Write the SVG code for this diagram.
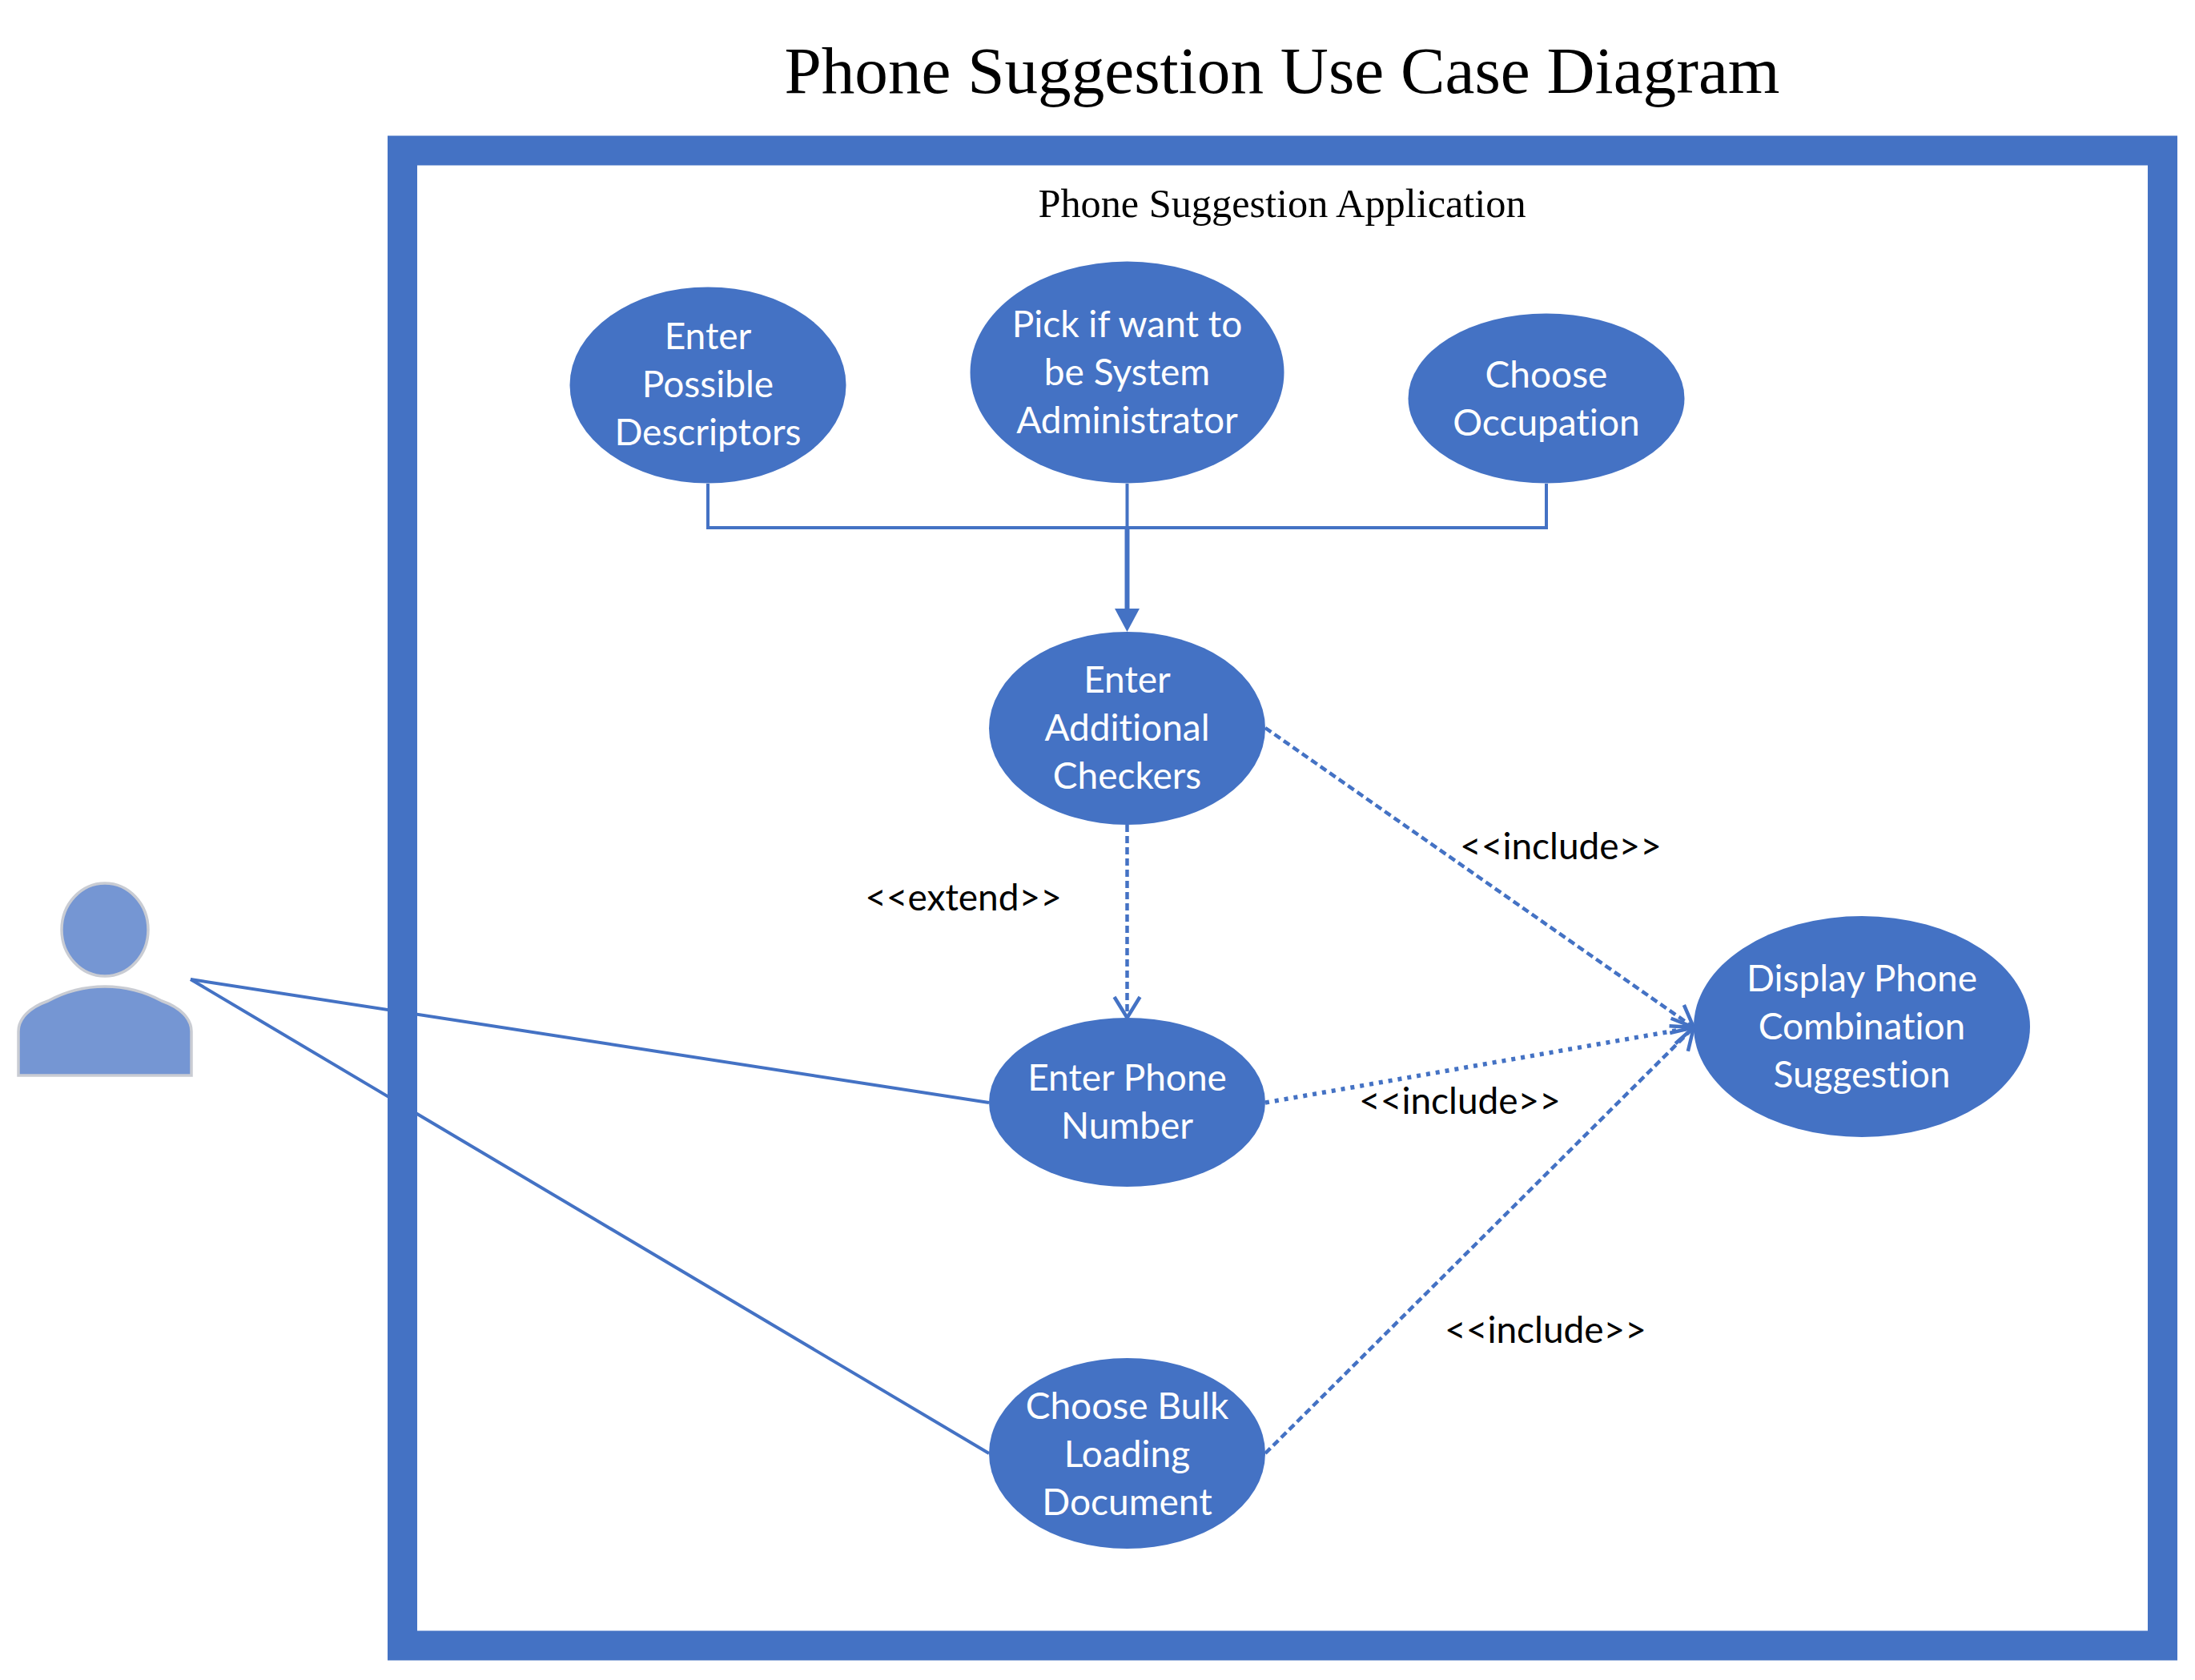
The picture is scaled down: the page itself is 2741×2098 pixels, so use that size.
<svg xmlns="http://www.w3.org/2000/svg" width="2741" height="2098" viewBox="0 0 2741 2098">
<style>
.uc{fill:#4472c4}
.t{font-family:"Lato","Liberation Sans",sans-serif;font-size:46px;fill:#fff;text-anchor:middle;font-variant-ligatures:none}
.l{font-family:"Lato","Liberation Sans",sans-serif;font-size:46px;fill:#000;text-anchor:middle;font-variant-ligatures:none}
.s{font-family:"Liberation Serif","Times New Roman",serif;fill:#000;text-anchor:middle}
.c{fill:none;stroke:#4472c4;stroke-width:4}
.d{stroke-width:4.5;stroke-dasharray:9 5}
.o{stroke-width:5.5;stroke-dasharray:5 7}
</style>
<defs>
<marker id="open" markerUnits="userSpaceOnUse" markerWidth="40" markerHeight="44" refX="32" refY="22" orient="auto">
<path d="M6 6L32 22L6 38" fill="none" stroke="#4472c4" stroke-width="4.5"/>
</marker>
</defs>
<rect width="2741" height="2098" fill="#fff"/>
<text id="title" class="s" x="1601" y="116" font-size="83.2">Phone Suggestion Use Case Diagram</text>
<g id="connectors">
<path class="c" d="M884 604V659H1931V604"/>
<path class="c" d="M1407.5 604V659"/>
<path class="c" style="stroke-width:6" d="M1407.5 659V765"/>
<path d="M1392 760H1423L1407.5 789Z" fill="#4472c4"/>
<path class="c" d="M238 1223L1235 1377"/>
<path class="c" d="M238 1223L1235 1815"/>
<path class="c d" d="M1407.5 1030V1271" marker-end="url(#open)"/>
<path class="c d" d="M1580 909L2115 1283" marker-end="url(#open)"/>
<path class="c o" d="M1580 1377L2115 1283" marker-end="url(#open)"/>
<path class="c d" d="M1580 1815L2115 1283" marker-end="url(#open)"/>
</g>
<g id="system">
<rect x="502.5" y="188" width="2198" height="1867" fill="none" stroke="#4472c4" stroke-width="37"/>
<text class="s" x="1601" y="271" font-size="50.3">Phone Suggestion Application</text>
</g>
<g id="actor">
<ellipse cx="131" cy="1161" rx="54" ry="58" fill="#7596d3" stroke="#c9ccd3" stroke-width="3.5"/>
<path d="M23 1343V1320V1288C23 1272 37 1258 60 1250C82 1238 105 1232 131 1232C157 1232 180 1238 202 1250C225 1258 239 1272 239 1288V1343Z" fill="#7596d3" stroke="#c9ccd3" stroke-width="3.5"/>
</g>
<g id="descriptors"><ellipse class="uc" cx="884" cy="481" rx="172.5" ry="122.5"/><text class="t"><tspan x="884" y="436">Enter</tspan><tspan x="884" y="496">Possible</tspan><tspan x="884" y="556">Descriptors</tspan></text></g>
<g id="sysadmin"><ellipse class="uc" cx="1407.5" cy="465" rx="196" ry="138.5"/><text class="t"><tspan x="1407.5" y="421">Pick if want to</tspan><tspan x="1407.5" y="481">be System</tspan><tspan x="1407.5" y="541">Administrator</tspan></text></g>
<g id="occupation"><ellipse class="uc" cx="1931" cy="497.5" rx="172.5" ry="106"/><text class="t"><tspan x="1931" y="484">Choose</tspan><tspan x="1931" y="544">Occupation</tspan></text></g>
<g id="checkers"><ellipse class="uc" cx="1407.5" cy="909.5" rx="172.5" ry="120.5"/><text class="t"><tspan x="1407.5" y="865">Enter</tspan><tspan x="1407.5" y="925">Additional</tspan><tspan x="1407.5" y="985">Checkers</tspan></text></g>
<g id="phone"><ellipse class="uc" cx="1407.5" cy="1376.5" rx="172.5" ry="105.5"/><text class="t"><tspan x="1407.5" y="1362">Enter Phone</tspan><tspan x="1407.5" y="1422">Number</tspan></text></g>
<g id="bulk"><ellipse class="uc" cx="1407.5" cy="1815" rx="172.5" ry="119"/><text class="t"><tspan x="1407.5" y="1772">Choose Bulk</tspan><tspan x="1407.5" y="1832">Loading</tspan><tspan x="1407.5" y="1892">Document</tspan></text></g>
<g id="display"><ellipse class="uc" cx="2325" cy="1282" rx="210" ry="138"/><text class="t"><tspan x="2325" y="1238">Display Phone</tspan><tspan x="2325" y="1298">Combination</tspan><tspan x="2325" y="1358">Suggestion</tspan></text></g>
<g id="labels">
<text class="l" x="1203" y="1137">&lt;&lt;extend&gt;&gt;</text>
<text class="l" x="1949" y="1073">&lt;&lt;include&gt;&gt;</text>
<text class="l" x="1823" y="1391">&lt;&lt;include&gt;&gt;</text>
<text class="l" x="1930" y="1677">&lt;&lt;include&gt;&gt;</text>
</g>
</svg>
